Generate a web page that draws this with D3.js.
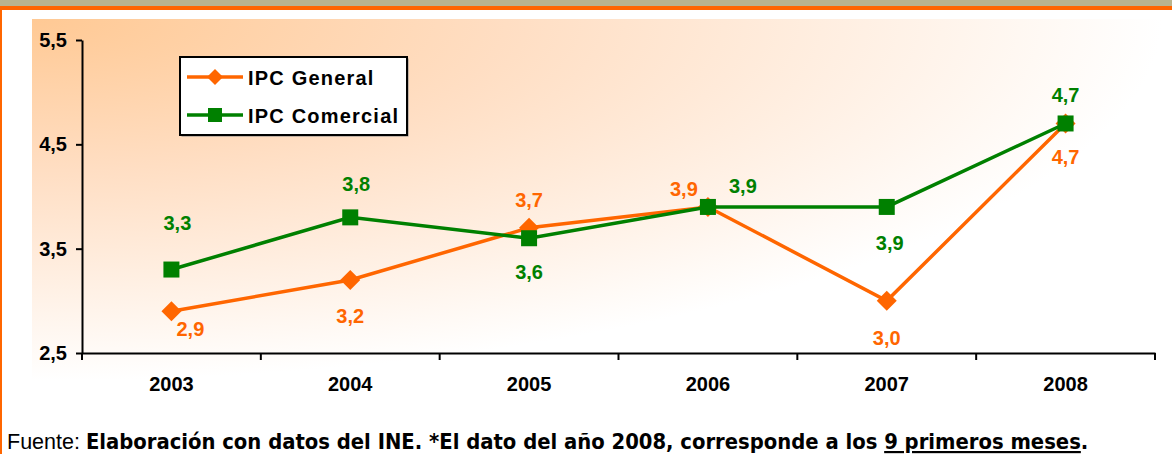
<!DOCTYPE html>
<html>
<head>
<meta charset="utf-8">
<script src="https://cdn.jsdelivr.net/npm/d3@7"></script>
<style>
  body { margin: 0; background: #fff; }
  svg { display: block; font-family: "Liberation Sans", Arial, sans-serif; }
</style>
</head>
<body>
<div id="my_dataviz"></div>
<script>
// data
var years = ["2003", "2004", "2005", "2006", "2007", "2008"];
var ipcGeneral = [2.9, 3.2, 3.7, 3.9, 3.0, 4.7];
var ipcComercial = [3.3, 3.8, 3.6, 3.9, 3.9, 4.7];
var yTicks = [2.5, 3.5, 4.5, 5.5];
var seriesNames = ["IPC General", "IPC Comercial"];

// where each value label sits relative to its point
var posGeneral = [[19, 25], [0, 43], [0, -21], [-24, -11], [0, 44], [0, 41]];
var posComercial = [[6, -40], [6, -26], [0, 41], [35, -14], [3, 43], [0, -21]];

var W = 1172, H = 454;
var margin = { left: 82, top: 40, right: 17, bottom: 101 };
var width = 1155 - margin.left, height = 353 - margin.top;

var fmt = function(v) { return d3.format(".1f")(v).replace(".", ","); };

var svg = d3.select("#my_dataviz").append("svg")
    .attr("width", W).attr("height", H);

var defs = svg.append("defs");
var grad = defs.append("radialGradient")
    .attr("id", "bg").attr("cx", 0).attr("cy", 0).attr("r", 1)
    .attr("fx", 0).attr("fy", 0);
grad.append("stop").attr("offset", "0").attr("stop-color", "#ffc994");
grad.append("stop").attr("offset", "0.42").attr("stop-color", "#ffdec3");
grad.append("stop").attr("offset", "1").attr("stop-color", "#ffffff");

// frame
svg.append("rect").attr("x", 0).attr("y", 0).attr("width", W).attr("height", 6).attr("fill", "#b9b48e");
svg.append("rect").attr("x", 0).attr("y", 6).attr("width", W).attr("height", 4).attr("fill", "#ff6600");
svg.append("rect").attr("x", 0).attr("y", 6).attr("width", 2).attr("height", H).attr("fill", "#ff6600");

svg.append("rect").attr("x", 32).attr("y", 19).attr("width", 1130).attr("height", 362)
    .attr("fill", "url(#bg)");

var g = svg.append("g").attr("transform", "translate(" + margin.left + "," + margin.top + ")");

var x = d3.scaleBand().domain(years).range([0, width]);
var y = d3.scaleLinear().domain([2.5, 5.5]).range([height, 0]);
var cx = function(i) { return x(years[i]) + x.bandwidth() / 2; };

// axes
var xAxis = g.append("g").attr("transform", "translate(0," + height + ")")
    .call(d3.axisBottom(x).tickSize(0).tickFormat(""));
xAxis.select(".domain").attr("stroke", "#000").attr("stroke-width", 2);
xAxis.selectAll(".xt").data(years.concat(["end"])).enter().append("line")
    .attr("x1", function(d, i) { return i * x.step(); })
    .attr("x2", function(d, i) { return i * x.step(); })
    .attr("y1", 0).attr("y2", 7).attr("stroke", "#000").attr("stroke-width", 2);
xAxis.selectAll(".xl").data(years).enter().append("text")
    .attr("x", function(d) { return x(d) + x.bandwidth() / 2; })
    .attr("y", 38).attr("text-anchor", "middle")
    .attr("font-size", 20).attr("font-weight", "bold").attr("fill", "#000")
    .attr("font-family", "Liberation Sans, Arial, sans-serif")
    .text(function(d) { return d; });

var yAxis = g.append("g")
    .call(d3.axisLeft(y).tickValues(yTicks).tickSize(6).tickSizeOuter(0).tickPadding(9).tickFormat(fmt));
yAxis.select(".domain").attr("stroke", "#000").attr("stroke-width", 2);
yAxis.selectAll(".tick line").attr("stroke", "#000").attr("stroke-width", 2);
yAxis.selectAll(".tick text").attr("font-size", 20).attr("font-weight", "bold").attr("fill", "#000")
    .attr("font-family", "Liberation Sans, Arial, sans-serif");

var line = d3.line().x(function(d, i) { return cx(i); }).y(function(d) { return y(d); });
var orange = "#ff6600", green = "#008000";

function diamond(sel, r) {
    sel.attr("d", "M0," + (-r) + "L" + r + ",0L0," + r + "L" + (-r) + ",0Z");
}

// IPC General
g.append("path").datum(ipcGeneral).attr("d", line)
    .attr("fill", "none").attr("stroke", orange).attr("stroke-width", 3.5);
g.selectAll(".mg").data(ipcGeneral).enter().append("path")
    .attr("transform", function(d, i) { return "translate(" + cx(i) + "," + y(d) + ")"; })
    .call(diamond, 10).attr("fill", orange);

// IPC Comercial
g.append("path").datum(ipcComercial).attr("d", line)
    .attr("fill", "none").attr("stroke", green).attr("stroke-width", 3.5);
g.selectAll(".mc").data(ipcComercial).enter().append("rect")
    .attr("x", function(d, i) { return cx(i) - 8; })
    .attr("y", function(d) { return y(d) - 8; })
    .attr("width", 16).attr("height", 16).attr("fill", green);

// value labels
function labels(data, pos, color) {
    g.selectAll(null).data(data).enter().append("text")
        .attr("x", function(d, i) { return cx(i) + pos[i][0]; })
        .attr("y", function(d, i) { return y(d) + pos[i][1]; })
        .attr("text-anchor", "middle")
        .attr("font-size", 20).attr("font-weight", "bold").attr("fill", color)
        .text(function(d) { return fmt(d); });
}
labels(ipcGeneral, posGeneral, orange);
labels(ipcComercial, posComercial, green);

// legend
var lg = svg.append("g").attr("transform", "translate(180,57)");
lg.append("rect").attr("x", 1.5).attr("y", 1.5).attr("width", 227).attr("height", 78).attr("fill", "#888");
lg.append("rect").attr("x", 0).attr("y", 0).attr("width", 227).attr("height", 78)
    .attr("fill", "#fff").attr("stroke", "#000").attr("stroke-width", 2);
var items = lg.selectAll(".it").data(seriesNames).enter().append("g")
    .attr("transform", function(d, i) { return "translate(0," + (20 + i * 38) + ")"; });
items.append("line").attr("x1", 7).attr("x2", 63).attr("y1", 0).attr("y2", 0)
    .attr("stroke", function(d, i) { return i ? green : orange; }).attr("stroke-width", 3.5);
items.each(function(d, i) {
    var it = d3.select(this);
    if (i) it.append("rect").attr("x", 28).attr("y", -7).attr("width", 14).attr("height", 14).attr("fill", green);
    else it.append("path").attr("transform", "translate(35,0)").call(diamond, 8).attr("fill", orange);
});
items.append("text").attr("x", 68).attr("y", 7.5)
    .attr("font-size", 20).attr("font-weight", "bold").attr("letter-spacing", 1.2).attr("fill", "#000")
    .text(function(d) { return d; });

// source note
var note = svg.append("text").attr("x", 7).attr("y", 449).attr("font-size", 21.8)
    .attr("font-family", "DejaVu Sans Condensed, Liberation Sans, sans-serif").attr("fill", "#000");
note.append("tspan").attr("font-family", "Liberation Sans, Arial, sans-serif").attr("font-size", 21.5).text("Fuente: ");
note.append("tspan").attr("font-weight", "bold").text("Elaboración con datos del INE. *El dato del año 2008, corresponde a los ");
note.append("tspan").attr("font-weight", "bold").attr("text-decoration", "underline").text("9 primeros meses");
note.append("tspan").attr("font-weight", "bold").text(".");
</script>
</body>
</html>
